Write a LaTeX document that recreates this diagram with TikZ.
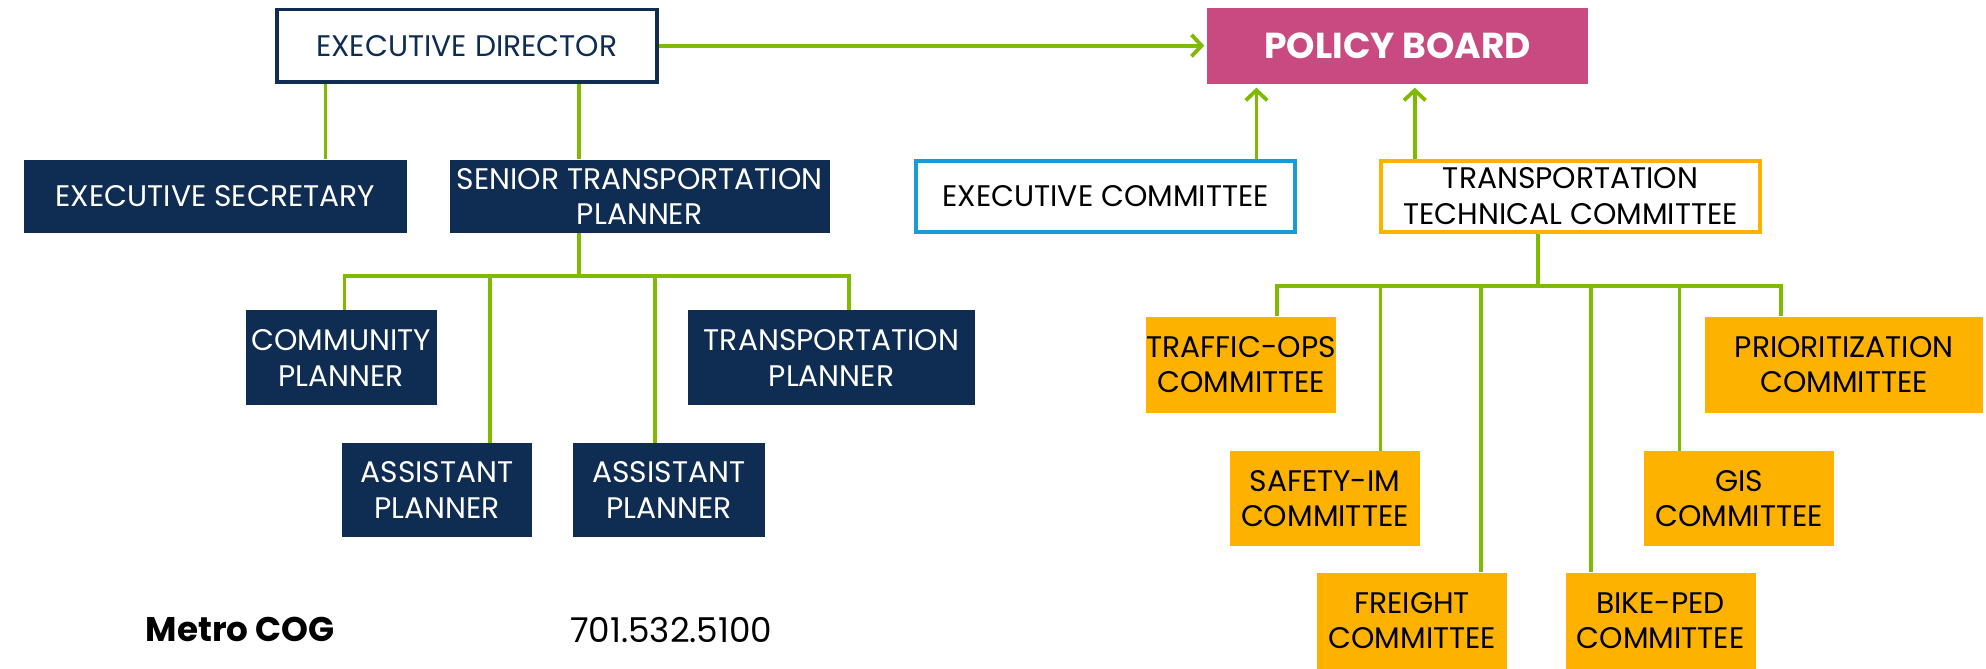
\documentclass[tikz,border=0pt]{standalone}
\usepackage{fontspec}
\setmainfont{Poppins}
\usetikzlibrary{arrows.meta}
\definecolor{navy}{HTML}{0F2C52}
\definecolor{lime}{HTML}{7FBA00}
\definecolor{pinkb}{HTML}{C94A80}
\definecolor{skyb}{HTML}{1A9AD7}
\definecolor{ambr}{HTML}{FDB200}
\tikzset{
  boxtext/.style={align=center, inner sep=0pt, font=\fontsize{23.5}{28}\selectfont},
  navybox/.style={boxtext, fill=navy, text=white},
  whitebox/.style={boxtext, fill=white, line width=3pt},
  ambrbox/.style={boxtext, fill=ambr, text=black},
  conn/.style={draw=lime, line width=3pt},
  arr/.style={conn, -{Straight Barb[length=8pt,width=17pt]}, shorten >=3pt},
}
\begin{document}
\begin{tikzpicture}[x=1pt,y=-1pt]
\useasboundingbox (0,0) rectangle (1568,528);
% top row
\node[whitebox, draw=navy, text=navy, minimum width=300pt, minimum height=57pt] (ED) at (368.5,36) {EXECUTIVE DIRECTOR};
\node[boxtext, fill=pinkb, text=white, font=\fontsize{28.5}{30}\selectfont\bfseries, minimum width=301pt, minimum height=60pt] (PB) at (1103.5,36) {POLICY BOARD};
% second row
\node[navybox, minimum width=302pt, minimum height=58pt] (ES) at (170,155) {EXECUTIVE SECRETARY};
\node[navybox, minimum width=300pt, minimum height=58pt] (STP) at (505,155) {SENIOR TRANSPORTATION\\PLANNER};
\node[whitebox, draw=skyb, text=black, minimum width=299pt, minimum height=56pt] (EC) at (873,155) {EXECUTIVE COMMITTEE};
\node[whitebox, draw=ambr, text=black, minimum width=299pt, minimum height=56pt] (TTC) at (1240,155) {TRANSPORTATION\\TECHNICAL COMMITTEE};
% planners
\node[navybox, minimum width=151pt, minimum height=75pt] (CP) at (269.5,282.5) {COMMUNITY\\PLANNER};
\node[navybox, minimum width=227pt, minimum height=75pt] (TP) at (656.5,282.5) {TRANSPORTATION\\PLANNER};
\node[navybox, minimum width=150pt, minimum height=74pt] (AP1) at (345,387) {ASSISTANT\\PLANNER};
\node[navybox, minimum width=152pt, minimum height=74pt] (AP2) at (528,387) {ASSISTANT\\PLANNER};
% committees
\node[ambrbox, minimum width=150pt, minimum height=76pt] (TO) at (980,288) {TRAFFIC-OPS\\COMMITTEE};
\node[ambrbox, minimum width=220pt, minimum height=76pt] (PR) at (1456,288) {PRIORITIZATION\\COMMITTEE};
\node[ambrbox, minimum width=150pt, minimum height=75pt] (SI) at (1046,393.5) {SAFETY-IM\\COMMITTEE};
\node[ambrbox, minimum width=150pt, minimum height=75pt] (GIS) at (1373,393.5) {GIS\\COMMITTEE};
\node[ambrbox, minimum width=150pt, minimum height=76pt] (FR) at (1115,490) {FREIGHT\\COMMITTEE};
\node[ambrbox, minimum width=150pt, minimum height=76pt] (BP) at (1311,490) {BIKE-PED\\COMMITTEE};
% footer
\node[inner sep=0pt, font=\fontsize{27}{30}\selectfont\bfseries, anchor=west] (MC) at (115,497) {Metro COG};
\node[inner sep=0pt, font=\fontsize{27}{30}\selectfont, anchor=west] (PH) at (450,497) {701.532.5100};
% coordinates
\coordinate (xes) at (257,0);
\coordinate (xstp) at (457,0);
\coordinate (b0) at (457,218);
\coordinate (b1) at (272,218);
\coordinate (b2) at (387,218);
\coordinate (b3) at (517,218);
\coordinate (b4) at (670,218);
\coordinate (xec) at (992,0);
\coordinate (xttc) at (1117,0);
\coordinate (t0) at (1214,226);
\coordinate (t1) at (1008,226);
\coordinate (t2) at (1090,226);
\coordinate (t3) at (1169,226);
\coordinate (t4) at (1256,226);
\coordinate (t5) at (1326,226);
\coordinate (t6) at (1406,226);
% connectors
\draw[arr, shorten >=2pt] (ED.east) -- (PB.west);
\draw[conn] (ED.south -| xes) -- (ES.north -| xes);
\draw[conn] (ED.south -| xstp) -- (STP.north -| xstp);
\draw[conn] (STP.south -| b0) -- (b0);
\draw[conn, line cap=rect] (b1) -- (b4);
\draw[conn] (b1) -- (CP.north -| b1);
\draw[conn] (b2) -- (AP1.north -| b2);
\draw[conn] (b3) -- (AP2.north -| b3);
\draw[conn] (b4) -- (TP.north -| b4);
\draw[arr] (EC.north -| xec) -- (PB.south -| xec);
\draw[arr] (TTC.north -| xttc) -- (PB.south -| xttc);
\draw[conn] (TTC.south -| t0) -- (t0);
\draw[conn, line cap=rect] (t1) -- (t6);
\draw[conn] (t1) -- (TO.north -| t1);
\draw[conn] (t2) -- (SI.north -| t2);
\draw[conn] (t3) -- (FR.north -| t3);
\draw[conn] (t4) -- (BP.north -| t4);
\draw[conn] (t5) -- (GIS.north -| t5);
\draw[conn] (t6) -- (PR.north -| t6);
\end{tikzpicture}
\end{document}
